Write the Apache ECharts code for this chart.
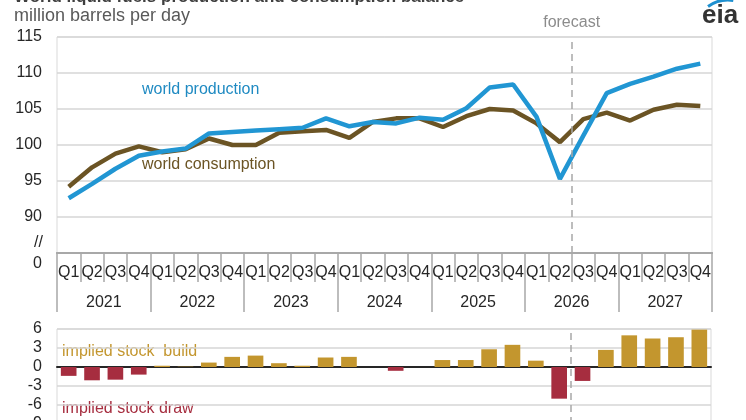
<!DOCTYPE html>
<html>
<head>
<meta charset="utf-8">
<script src="https://cdn.jsdelivr.net/npm/echarts@6/dist/echarts.min.js"></script>
<style>
  html, body { margin: 0; padding: 0; background: #fff; }
  #chart { width: 746px; height: 420px; }
</style>
</head>
<body>
<div id="chart"></div>
<script>
// categories
const years = ['2021', '2022', '2023', '2024', '2025', '2026', '2027']
const quarterNames = ['Q1', 'Q2', 'Q3', 'Q4']
const quarters = years.flatMap(() => quarterNames)

// million barrels per day
const production = [92.6, 94.6, 96.7, 98.5, 99.1, 99.5, 101.6, 101.8, 102.0, 102.2,
  102.4, 103.7, 102.6, 103.2, 103.0, 103.8, 103.5, 105.1, 108.0, 108.4,
  103.9, 95.3, 101.3, 107.2, 108.5, 109.5, 110.6, 111.3]
const consumption = [94.2, 96.9, 98.8, 99.8, 99.0, 99.4, 100.9, 100.0, 100.0, 101.7,
  101.9, 102.1, 101.0, 103.2, 103.7, 103.7, 102.5, 104.0, 105.0, 104.8,
  103.0, 100.4, 103.6, 104.5, 103.4, 104.9, 105.6, 105.4]
// implied stock change
const stockChange = [-1.4, -2.1, -2.0, -1.2, 0.2, 0.05, 0.7, 1.6, 1.8, 0.6,
  0.2, 1.5, 1.6, 0, -0.6, 0, 1.1, 1.1, 2.8, 3.5,
  1.0, -5.0, -2.2, 2.7, 5.0, 4.5, 4.7, 5.9]

const forecastStart = 22 // boundary between 2026 Q2 and Q3

const font = 'Liberation Sans, Arial, sans-serif'
const gridLine = { lineStyle: { color: '#d6d6d6', width: 1.5 } }
const sepColor = '#a8a8a8'
const gold = '#c3962e'
const red = '#a62d3f'

const chart = echarts.init(document.getElementById('chart'))
chart.setOption({
  animation: false,
  backgroundColor: '#fff',
  textStyle: { fontFamily: font },
  grid: [
    { left: 57, right: 34, top: 37, height: 216, show: true, borderColor: '#d9d9d9', borderWidth: 1, outerBoundsMode: 'none' },
    { left: 57, right: 35, top: 329, height: 95, show: true, borderColor: '#d9d9d9', borderWidth: 1, outerBoundsMode: 'none' },
  ],
  xAxis: [
    {
      type: 'category', gridIndex: 0, position: 'bottom', data: quarters,
      axisLine: { lineStyle: { color: sepColor, width: 2 } },
      axisTick: { show: true, interval: 0, length: 29, lineStyle: { color: sepColor, width: 1.5 } },
      axisLabel: { interval: 0, margin: 12, color: '#262626', fontSize: 16, fontFamily: font },
    },
    {
      type: 'category', gridIndex: 0, position: 'bottom', data: years,
      axisLine: { lineStyle: { color: sepColor, width: 2 } },
      axisTick: { show: true, interval: 0, length: 59, lineStyle: { color: sepColor, width: 1.5 } },
      axisLabel: { interval: 0, margin: 42, color: '#262626', fontSize: 16, fontFamily: font },
    },
    { type: 'value', gridIndex: 0, min: 0, max: quarters.length, show: false },
    {
      type: 'category', gridIndex: 1, data: quarters,
      axisLine: { onZero: true, lineStyle: { color: '#262626', width: 2 } },
      axisTick: { show: false },
      axisLabel: { show: false },
    },
    { type: 'value', gridIndex: 1, min: 0, max: quarters.length, show: false },
  ],
  yAxis: [
    {
      type: 'value', gridIndex: 0, min: 85, max: 115, interval: 5,
      axisLine: { show: false }, axisTick: { show: false },
      splitLine: gridLine,
      axisLabel: {
        margin: 15, color: '#262626', fontSize: 16, fontFamily: font,
        formatter: v => (v === 85 ? '{z|0}' : String(v)),
        rich: { z: { fontSize: 16, fontFamily: font, color: '#262626', padding: [22, 0, 0, 0] } },
      },
    },
    {
      type: 'value', gridIndex: 1, min: -9, max: 6, interval: 3,
      axisLine: { show: false }, axisTick: { show: false },
      splitLine: gridLine,
      axisLabel: { margin: 15, color: '#262626', fontSize: 16, fontFamily: font },
    },
  ],
  series: [
    {
      name: 'world consumption', type: 'line', xAxisIndex: 0, yAxisIndex: 0,
      data: consumption, symbol: 'none',
      lineStyle: { color: '#6b5424', width: 4.5 },
    },
    {
      name: 'world production', type: 'line', xAxisIndex: 0, yAxisIndex: 0,
      data: production, symbol: 'none',
      lineStyle: { color: '#2196d3', width: 4.5 },
    },
    {
      name: 'forecast-top', type: 'line', xAxisIndex: 2, yAxisIndex: 0, data: [],
      markLine: {
        silent: true, symbol: 'none',
        lineStyle: { color: '#a8a8a8', type: [7, 5], width: 1.5 },
        label: { show: true, position: 'end', distance: 6, formatter: 'forecast', color: '#8c8c8c', fontSize: 16, fontFamily: font },
        data: [{ xAxis: forecastStart }],
      },
    },
    {
      name: 'implied stock change', type: 'bar', xAxisIndex: 3, yAxisIndex: 1,
      data: stockChange, barCategoryGap: '33%',
      itemStyle: { color: p => (p.value < 0 ? red : gold) },
    },
    {
      name: 'forecast-bottom', type: 'line', xAxisIndex: 4, yAxisIndex: 1, data: [],
      markLine: {
        silent: true, symbol: 'none',
        lineStyle: { color: '#a8a8a8', type: [7, 5], width: 1.5 },
        label: { show: false },
        data: [{ xAxis: forecastStart }],
      },
    },
  ],
  graphic: [
    { type: 'text', left: 14, top: -11, style: { text: 'World liquid fuels production and consumption balance', fill: '#3f3f3f', font: 'bold 17px ' + font } },
    { type: 'text', left: 14, top: 7, style: { text: 'million barrels per day', fill: '#595959', font: '18px ' + font } },
    { type: 'text', left: 142, top: 82, style: { text: 'world production', fill: '#1f8ac2', font: '16px ' + font } },
    { type: 'text', left: 142, top: 157, style: { text: 'world consumption', fill: '#6b5424', font: '16px ' + font } },
    { type: 'text', left: 34, top: 235, style: { text: '//', fill: '#262626', font: '16px ' + font } },
    { type: 'text', left: 62, top: 344, style: { text: 'implied stock  build', fill: gold, font: '16px ' + font } },
    { type: 'text', left: 62, top: 401, style: { text: 'implied stock draw', fill: red, font: '16px ' + font } },
    { type: 'text', left: 702, top: 3, style: { text: 'eia', fill: '#333333', font: 'bold 26px ' + font } },
    { type: 'arc', shape: { cx: 728, cy: 34, r: 34, startAngle: -Math.PI * 0.7, endAngle: -Math.PI * 0.45 }, style: { stroke: '#1e90d0', lineWidth: 3, fill: null } },
  ],
})
</script>
</body>
</html>
